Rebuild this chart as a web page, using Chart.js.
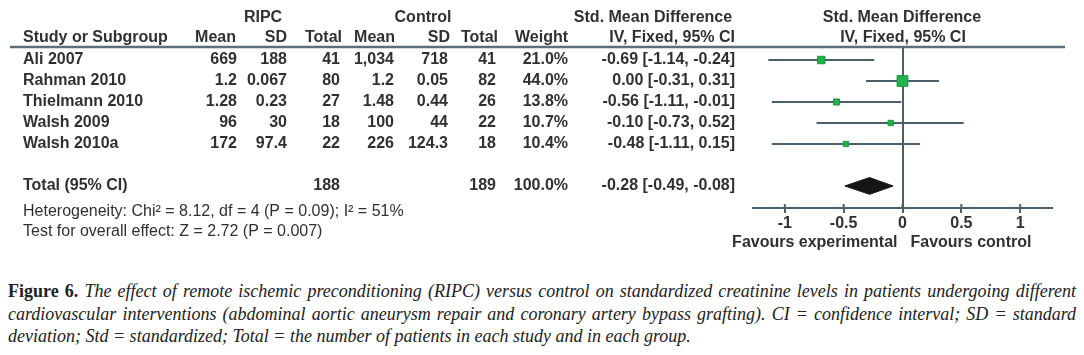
<!DOCTYPE html>
<html><head><meta charset="utf-8">
<script src="https://cdn.jsdelivr.net/npm/chart.js@4.4.1/dist/chart.umd.min.js"></script>
<style>
html,body{margin:0;padding:0;background:#fff;}
#wrap{position:relative;width:1084px;height:355px;overflow:hidden;background:#fff;}
#c{position:absolute;left:0;top:0;}
.cap{position:absolute;left:8px;top:280px;width:1068px;font-family:"Liberation Serif",serif;font-size:18px;font-style:italic;color:#222;line-height:22.5px;}
.cap div{white-space:nowrap;}
.cap .j{text-align:justify;text-align-last:justify;}
.cap b{font-style:normal;font-weight:bold;}
</style></head>
<body><div id="wrap"><canvas id="c" width="1084" height="265"></canvas>
<div class="cap">
<div class="j"><b>Figure 6.</b> The effect of remote ischemic preconditioning (RIPC) versus control on standardized creatinine levels in patients undergoing different</div>
<div class="j">cardiovascular interventions (abdominal aortic aneurysm repair and coronary artery bypass grafting). CI = confidence interval; SD = standard</div>
<div>deviation; Std = standardized; Total = the number of patients in each study and in each group.</div>
</div>
</div>
<script>
const studies = ['Ali 2007','Rahman 2010','Thielmann 2010','Walsh 2009','Walsh 2010a'];
const ripcMean = ['669','1.2','1.28','96','172'];
const ripcSD = ['188','0.067','0.23','30','97.4'];
const ripcTotal = [41,80,27,18,22];
const ctrlMean = ['1,034','1.2','1.48','100','226'];
const ctrlSD = ['718','0.05','0.44','44','124.3'];
const ctrlTotal = [41,82,26,22,18];
const weights = [21.0,44.0,13.8,10.7,10.4];
const smd = [-0.69,0.00,-0.56,-0.10,-0.48];
const ciLow = [-1.14,-0.31,-1.11,-0.73,-1.11];
const ciHigh = [-0.24,0.31,-0.01,0.52,0.15];
const totalRipc = 188, totalCtrl = 189, totalWeight = 100.0;
const totalSmd = -0.28, totalLow = -0.49, totalHigh = -0.08;
const xTicks = [-1,-0.5,0,0.5,1];
const heterogeneityText = 'Heterogeneity: Chi\u00B2 = 8.12, df = 4 (P = 0.09); I\u00B2 = 51%';
const overallText = 'Test for overall effect: Z = 2.72 (P = 0.007)';

const TOTAL_ROW = 6;
const LINE = '#4b5e6b';
const TXT = '#303030';
const FONT = 'bold 16px "Liberation Sans", Arial, sans-serif';
const FONT_R = '16px "Liberation Sans", Arial, sans-serif';
const fmt = v => v.toFixed(2);
const ciText = (m,l,h) => fmt(m) + ' [' + fmt(l) + ', ' + fmt(h) + ']';

const ciSets = studies.map((s,i) => ({
  type:'line', label:s,
  data:[{x:ciLow[i],y:i},{x:ciHigh[i],y:i}],
  borderColor:LINE, borderWidth:2, pointRadius:0, order:3
}));
const pointSet = {
  type:'scatter', label:'SMD',
  data: smd.map((v,i)=>({x:v,y:i})),
  pointStyle:'rect',
  pointRadius: weights.map(w=>Math.sqrt(w)*1.15),
  backgroundColor:'#22b24c', borderColor:'#1a9a3f', borderWidth:1, order:1
};
const diamondSet = {
  type:'line', label:'Total',
  data:[{x:totalLow,y:TOTAL_ROW},{x:totalSmd,y:TOTAL_ROW-0.4},{x:totalHigh,y:TOTAL_ROW},{x:totalSmd,y:TOTAL_ROW+0.4},{x:totalLow,y:TOTAL_ROW}],
  borderColor:'#151515', backgroundColor:'#151515', borderWidth:1, pointRadius:0, tension:0, fill:'shape', order:2
};

const tablePlugin = {
  id:'table',
  afterDraw(chart){
    const ctx = chart.ctx, y = chart.scales.y, x = chart.scales.x, ca = chart.chartArea;
    ctx.save();
    ctx.fillStyle = TXT;
    ctx.textBaseline = 'middle';
    const t = (s, px, py, align, font) => { ctx.font = font || FONT; ctx.textAlign = align; ctx.fillText(s, px, py); };
    // header rule
    ctx.strokeStyle = '#5a6e7c'; ctx.lineWidth = 2.5;
    ctx.beginPath(); ctx.moveTo(10, ca.top); ctx.lineTo(1065, ca.top); ctx.stroke();
    // upward part of axis tick marks
    ctx.strokeStyle = LINE; ctx.lineWidth = 2;
    xTicks.forEach(v => { const px = x.getPixelForValue(v); ctx.beginPath(); ctx.moveTo(px, ca.bottom); ctx.lineTo(px, ca.bottom-4); ctx.stroke(); });
    const h1 = y.getPixelForValue(-2), h2 = y.getPixelForValue(-1.05);
    t('RIPC', 263, h1, 'center');
    t('Control', 423, h1, 'center');
    t('Std. Mean Difference', 653, h1, 'center');
    t('Std. Mean Difference', 902, h1, 'center');
    t('Study or Subgroup', 23, h2, 'left');
    t('Mean', 236, h2, 'right'); t('SD', 287, h2, 'right'); t('Total', 342, h2, 'right');
    t('Mean', 395, h2, 'right'); t('SD', 450, h2, 'right'); t('Total', 498, h2, 'right');
    t('Weight', 568, h2, 'right');
    t('IV, Fixed, 95% CI', 735, h2, 'right');
    t('IV, Fixed, 95% CI', 903, h2, 'center');
    studies.forEach((s,i)=>{
      const py = y.getPixelForValue(i);
      t(s, 23, py, 'left');
      t(ripcMean[i], 237, py, 'right');
      t(ripcSD[i], 287, py, 'right');
      t(String(ripcTotal[i]), 340, py, 'right');
      t(ctrlMean[i], 394, py, 'right');
      t(ctrlSD[i], 448, py, 'right');
      t(String(ctrlTotal[i]), 496, py, 'right');
      t(weights[i].toFixed(1)+'%', 568, py, 'right');
      t(ciText(smd[i],ciLow[i],ciHigh[i]), 735, py, 'right');
    });
    const pt = y.getPixelForValue(TOTAL_ROW);
    t('Total (95% CI)', 23, pt, 'left');
    t(String(totalRipc), 340, pt, 'right');
    t(String(totalCtrl), 496, pt, 'right');
    t(totalWeight.toFixed(1)+'%', 568, pt, 'right');
    t(ciText(totalSmd,totalLow,totalHigh), 735, pt, 'right');
    t(heterogeneityText, 23, y.getPixelForValue(7.22), 'left', FONT_R);
    t(overallText, 23, y.getPixelForValue(8.17), 'left', FONT_R);
    const z = x.getPixelForValue(0);
    t('Favours experimental', z-5, 243, 'right');
    t('Favours control', z+8, 243, 'left');
    ctx.restore();
  }
};

new Chart(document.getElementById('c'), {
  type:'scatter',
  data:{datasets:[...ciSets, diamondSet, pointSet]},
  options:{
    responsive:false, animation:false,
    layout:{padding:{left:753, right:32, top:47, bottom:27}},
    plugins:{legend:{display:false}, tooltip:{enabled:false}},
    scales:{
      x:{type:'linear', min:-1.27, max:1.27,
        afterBuildTicks: a => { a.ticks = xTicks.map(v=>({value:v})); },
        afterFit: s => { s.height = 30; },
        ticks:{callback:v=>String(v), color:TXT, font:{family:'"Liberation Sans", Arial, sans-serif', size:16, weight:'bold'}, padding:1, maxRotation:0, autoSkip:false},
        grid:{color:c => (c.tick && c.tick.value===0) ? LINE : 'rgba(0,0,0,0)', lineWidth:2, tickColor:LINE, tickLength:5, drawTicks:true},
        border:{display:true, color:LINE, width:2}
      },
      y:{type:'linear', min:-0.62, max:7.05, reverse:true, display:false}
    }
  },
  plugins:[tablePlugin]
});
</script>
</body></html>
